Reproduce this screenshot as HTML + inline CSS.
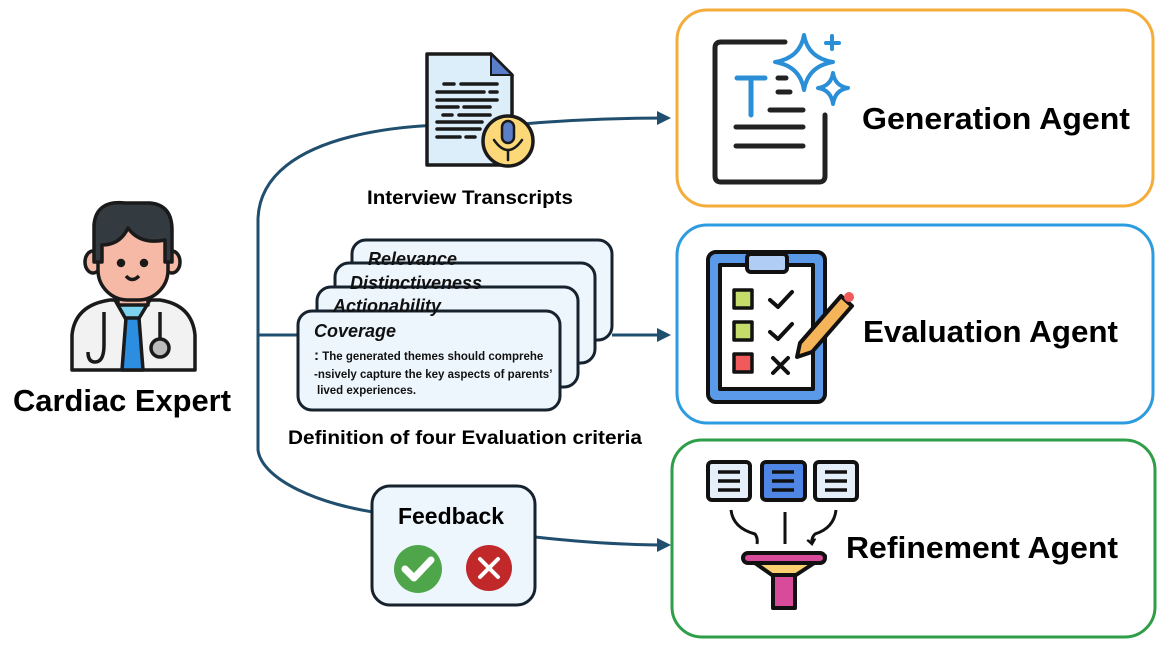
<!DOCTYPE html>
<html><head><meta charset="utf-8"><style>
html,body{margin:0;padding:0;background:#fff;}
svg{display:block;font-family:"Liberation Sans",sans-serif;}
</style></head><body>
<svg width="1164" height="646" viewBox="0 0 1164 646" xmlns="http://www.w3.org/2000/svg">
<defs>
<marker id="ar" markerWidth="14" markerHeight="14" refX="11" refY="7" orient="auto" markerUnits="userSpaceOnUse">
<path d="M0,0 L14,7 L0,14 z" fill="#1f4e6e"/></marker>
<marker id="ak" markerWidth="10" markerHeight="10" refX="5" refY="5" orient="auto" markerUnits="userSpaceOnUse">
<path d="M0,1 L5,5 L0,9" fill="none" stroke="#111" stroke-width="2.5"/></marker>
</defs>
<rect x="677" y="10" width="476" height="196" rx="30" fill="#fff" stroke="#f5ad3a" stroke-width="3"/>
<rect x="677" y="225" width="476" height="198" rx="30" fill="#fff" stroke="#2d9be0" stroke-width="3"/>
<rect x="672" y="440" width="483" height="197" rx="30" fill="#fff" stroke="#2e9e48" stroke-width="3"/>
<g font-weight="bold" font-size="31" fill="#000">
<text x="862" y="129" textLength="268" lengthAdjust="spacingAndGlyphs">Generation Agent</text>
<text x="863" y="342" textLength="255" lengthAdjust="spacingAndGlyphs">Evaluation Agent</text>
<text x="846" y="558" textLength="272" lengthAdjust="spacingAndGlyphs">Refinement Agent</text>
</g>
<g fill="none" stroke="#1f4e6e" stroke-width="3">
<path d="M258,218 C262,130 420,120 500,126 C560,120 620,118 668,118" marker-end="url(#ar)"/>
<path d="M258,218 L258,450 C262,480 320,505 380,513"/>
<path d="M535,537 C580,542 620,545 668,545" marker-end="url(#ar)"/>
<path d="M258,335 L300,335"/>
<path d="M612,335 L668,335" marker-end="url(#ar)"/>
</g>
<g stroke="#1a1a1a" stroke-width="3.5" stroke-linecap="round">
<path d="M427,54 L491,54 L512,75 L512,165 L427,165 z" fill="#dceefa" stroke-linejoin="round"/>
<path d="M491,54 L491,75 L512,75 z" fill="#5a7ec8" stroke-width="2"/>
<line x1="444" y1="84" x2="454" y2="84"/><line x1="461" y1="84" x2="497" y2="84"/>
<line x1="437" y1="92" x2="484" y2="92"/><line x1="490" y1="92" x2="497" y2="92"/>
<line x1="437" y1="100" x2="497" y2="100"/>
<line x1="437" y1="107" x2="458" y2="107"/><line x1="464" y1="107" x2="490" y2="107"/>
<line x1="443" y1="115" x2="452" y2="115"/><line x1="459" y1="115" x2="490" y2="115"/>
<line x1="437" y1="122" x2="482" y2="122"/>
<line x1="437" y1="129" x2="480" y2="129"/>
<line x1="437" y1="137" x2="460" y2="137"/><line x1="466" y1="137" x2="475" y2="137"/>
<circle cx="508" cy="141" r="25" fill="#fcd878"/>
<rect x="502" y="121" width="12" height="22" rx="6" fill="#5a7ec8" stroke-width="2.5"/>
<path d="M494,140 Q508,160 522,140" fill="none" stroke-width="2.5"/>
<line x1="508" y1="150" x2="508" y2="160" stroke-width="2.5"/>
</g>
<text x="470" y="204" text-anchor="middle" font-weight="bold" font-size="19" textLength="206" lengthAdjust="spacingAndGlyphs">Interview Transcripts</text>
<g stroke="#16222e" stroke-width="3" fill="#eef6fd">
<rect x="352" y="240" width="260" height="100" rx="14"/>
<rect x="335" y="263" width="260" height="100" rx="14"/>
<rect x="317" y="287" width="261" height="100" rx="14"/>
<rect x="298" y="311" width="262" height="99" rx="14"/>
</g>
<g font-weight="bold" font-style="italic" font-size="18" fill="#111">
<text x="368" y="265">Relevance</text>
<text x="350" y="289">Distinctiveness</text>
<text x="333" y="312">Actionability</text>
<text x="314" y="337">Coverage</text>
</g>
<g font-weight="bold" font-size="11.5" fill="#111">
<text x="314" y="360"><tspan font-size="15">:</tspan> The generated themes should  comprehe</text>
<text x="314" y="378">-nsively capture the key aspects of parents’</text>
<text x="317" y="394">lived experiences.</text>
</g>
<text x="465" y="444" text-anchor="middle" font-weight="bold" font-size="19" textLength="354" lengthAdjust="spacingAndGlyphs">Definition of four Evaluation criteria</text>
<rect x="372" y="486" width="163" height="119" rx="18" fill="#eef6fd" stroke="#16222e" stroke-width="3"/>
<text x="451" y="524" text-anchor="middle" font-weight="bold" font-size="23">Feedback</text>
<circle cx="418" cy="569" r="24" fill="#4fa54a"/>
<path d="M405,569 L414,578 L431,560" fill="none" stroke="#fff" stroke-width="7" stroke-linecap="round" stroke-linejoin="round"/>
<circle cx="489" cy="568" r="23" fill="#c0282a"/>
<path d="M480,559 L498,577 M498,559 L480,577" stroke="#fff" stroke-width="4" stroke-linecap="round"/>
<g stroke="#1a1a1a" stroke-width="3.5" stroke-linejoin="round">
<path d="M72,370 L72,335 Q75,305 110,300 L160,300 Q192,305 195,335 L195,370 z" fill="#f2f2f2"/>
<path d="M115,300 L132,330 L150,300 z" fill="#7dd3ee"/>
<path d="M126,318 L139,318 L143,370 L122,370 z" fill="#2b8ee0"/>
<rect x="118" y="280" width="30" height="25" fill="#f6b9a6"/>
<ellipse cx="93" cy="262" rx="8" ry="11" fill="#f6b9a6"/>
<ellipse cx="172" cy="262" rx="8" ry="11" fill="#f6b9a6"/>
<rect x="98" y="220" width="70" height="80" rx="30" fill="#f6b9a6"/>
<path d="M94,262 L94,225 Q96,200 125,203 L150,203 Q172,205 172,230 L172,262 L165,262 L165,240 Q140,245 128,228 Q120,245 102,245 L102,262 z" fill="#333b40"/>
<circle cx="121" cy="263" r="2.5" fill="#111"/><circle cx="144" cy="263" r="2.5" fill="#111"/>
<path d="M126,276 Q132,283 139,276" fill="none"/>
<path d="M104,312 L104,345 Q104,362 95,362 Q88,362 88,352" fill="none"/>
<path d="M160,312 L160,340" fill="none"/>
<circle cx="160" cy="348" r="9" fill="#bbb"/>
</g>
<text x="122" y="411" text-anchor="middle" font-weight="bold" font-size="31" textLength="218" lengthAdjust="spacingAndGlyphs">Cardiac Expert</text>
<g fill="none" stroke-linecap="round">
<path d="M785,42 L721,42 Q715,42 715,48 L715,176 Q715,182 721,182 L819,182 Q825,182 825,176 L825,115" stroke="#222" stroke-width="5"/>
<path d="M737,78 L765,78 M751,78 L751,115" stroke="#2a8fd6" stroke-width="5"/>
<path d="M778,78 L786,78 M778,92 L790,92 M770,110 L803,110 M736,127 L803,127 M736,146 L803,146" stroke="#222" stroke-width="5"/>
<path d="M804,35 Q808,58 833,62 Q808,66 804,90 Q800,66 775,62 Q800,58 804,35 z" stroke="#2a8fd6" stroke-width="4" stroke-linejoin="round"/>
<path d="M833,73 Q835,86 848,88 Q835,90 833,104 Q831,90 818,88 Q831,86 833,73 z" stroke="#2a8fd6" stroke-width="4" stroke-linejoin="round"/>
<path d="M832,36 L832,49 M826,43 L839,43" stroke="#2a8fd6" stroke-width="4"/>
</g>
<g stroke="#111" stroke-width="4" stroke-linejoin="round">
<rect x="708" y="252" width="117" height="150" rx="8" fill="#5a9ae8"/>
<rect x="720" y="265" width="93" height="124" fill="#fff"/>
<rect x="747" y="254" width="40" height="18" rx="4" fill="#b0cdf5"/>
<rect x="734" y="290" width="18" height="18" fill="#c5dc6b" stroke-width="3.5"/>
<rect x="734" y="322" width="18" height="18" fill="#c5dc6b" stroke-width="3.5"/>
<rect x="734" y="354" width="18" height="18" fill="#f05a5a" stroke-width="3.5"/>
<path d="M770,300 L778,307 L792,292 M770,332 L778,339 M778,339 L792,324 M773,358 L788,373 M788,358 L773,373" fill="none" stroke-linecap="round"/>
<path d="M800,343 L841,296 L852,306 L812,352 L797,357 z" fill="#f5b45a"/>
<circle cx="849" cy="297" r="5" fill="#f05a5a" stroke="none"/>
</g>
<g stroke="#111" stroke-width="4" stroke-linejoin="round">
<rect x="708" y="462" width="42" height="38" rx="4" fill="#e4effa"/>
<rect x="762" y="462" width="43" height="38" rx="4" fill="#4f86e6"/>
<rect x="815" y="462" width="42" height="38" rx="4" fill="#e4effa"/>
<path d="M718,472 h22 M718,481 h22 M718,490 h22 M772,472 h22 M772,481 h22 M772,490 h22 M825,472 h22 M825,481 h22 M825,490 h22" stroke-width="3.5"/>
<path d="M731,510 Q733,528 755,534 Q758,538 757,544 M785,512 L785,544 M836,510 Q834,528 815,534 Q811,538 812,544" fill="none" stroke-width="3" marker-end="url(#ak)"/>
<path d="M745,556 L825,556 L796,575 L772,575 z" fill="#fcd070"/>
<rect x="743" y="553" width="82" height="10" rx="5" fill="#d84a9a"/>
<rect x="773" y="575" width="22" height="33" fill="#d84a9a"/>
</g>
</svg>
</body></html>
